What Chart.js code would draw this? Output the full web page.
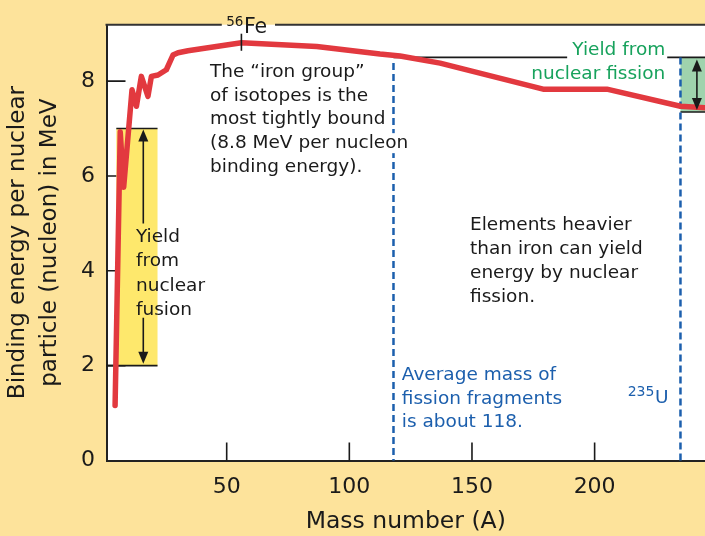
<!DOCTYPE html>
<html>
<head>
<meta charset="utf-8">
<style>
  html, body { margin: 0; padding: 0; background: #fde39b; }
  #wrap { width: 705px; height: 536px; }
</style>
<script src="https://cdn.jsdelivr.net/npm/chart.js@4.4.1/dist/chart.umd.min.js"></script>
</head>
<body>
<div id="wrap"><canvas id="chart" width="705" height="536"></canvas></div>
<script>
// Binding energy per nucleon against mass number (schematic curve)
const massNumber    = [4.5, 6.6, 8.0, 11.4, 13.2, 15.2, 17.9, 19.3, 22.0, 25.4, 28.1, 30.2, 34.2, 56, 86.7, 112.5, 120.7, 137, 179, 205, 235, 245];
const bindingEnergy = [1.16, 6.93, 5.76, 7.82, 7.47, 8.10, 7.68, 8.10, 8.13, 8.24, 8.55, 8.60, 8.64, 8.81, 8.73, 8.57, 8.53, 8.38, 7.83, 7.83, 7.47, 7.44];

const xTicks = [50, 100, 150, 200];
const yTicks = [0, 2, 4, 6, 8];

// shaded yield bands, in axis units (mass number / MeV)
const fusionBand  = { from: 5.0, to: 21.8, low: 2, high: 7, arrowAt: 16 };
const fissionBand = { from: 235, to: 245, low: 7.35, high: 8.5, arrowAt: 241.7 };
const fragmentMass = 118;
const uraniumMass  = 235;
const ironMass     = 56;

// text blocks: anchor = [mass number, MeV] of first baseline
const ironNote     = { at: [43.2, 8.086], lines: ['The \u201ciron group\u201d', 'of isotopes is the', 'most tightly bound', '(8.8 MeV per nucleon', 'binding energy).'] };
const heavyNote    = { at: [149.2, 4.858], lines: ['Elements heavier', 'than iron can yield', 'energy by nuclear', 'fission.'] };
const fragmentNote = { at: [121.4, 1.699], lines: ['Average mass of', 'fission fragments', 'is about 118.'] };
const fusionNote   = { at: [13.0, 4.613], lines: ['Yield', 'from', 'nuclear', 'fusion'] };
const fissionNote  = { at: [228.8, 8.552], lines: ['Yield from', 'nuclear fission'] };

const FONT = '"DejaVu Sans", sans-serif';
const INK = '#1a1a1a';
const RED = '#e2393f';
const BLUE = '#1c5fad';
const GREEN = '#17a25c';
const PAGE = '#fde39b';

function arrowHead(ctx, x, y, dir){
  // tip at (x, y); dir -1 points up, +1 points down
  ctx.beginPath();
  ctx.moveTo(x, y);
  ctx.lineTo(x - 5, y - dir * 12);
  ctx.lineTo(x + 5, y - dir * 12);
  ctx.closePath();
  ctx.fill();
}

function textBlock(ctx, xs, ys, note, color, align, step, knockout){
  const [x, y] = [xs.getPixelForValue(note.at[0]), ys.getPixelForValue(note.at[1])];
  ctx.font = '18.5px ' + FONT;
  ctx.textAlign = align;
  ctx.textBaseline = 'alphabetic';
  note.lines.forEach((t, i) => {
    if(knockout){
      const w = ctx.measureText(t).width;
      ctx.fillStyle = '#fff';
      ctx.fillRect(x - 1, y + i * step - 15, w + 2, 20);
    }
    ctx.fillStyle = color;
    ctx.fillText(t, x, y + i * step);
  });
}

const decor = {
  id: 'decor',
  beforeDraw(chart){
    const {ctx, chartArea: a} = chart;
    ctx.save();
    ctx.fillStyle = PAGE;
    ctx.fillRect(0, 0, chart.width, chart.height);
    ctx.fillStyle = '#fff';
    ctx.fillRect(a.left, a.top, a.right - a.left, a.bottom - a.top);
    ctx.restore();
  },
  beforeDatasetsDraw(chart){
    const {ctx, chartArea: a} = chart;
    const xs = chart.scales.x, ys = chart.scales.y;
    ctx.save();

    // inward tick marks
    ctx.strokeStyle = INK;
    ctx.lineWidth = 1.6;
    ctx.beginPath();
    xTicks.forEach(v => { const x = xs.getPixelForValue(v); ctx.moveTo(x, a.bottom); ctx.lineTo(x, a.bottom - 18); });
    yTicks.filter(v => v > 0).forEach(v => { const y = ys.getPixelForValue(v); ctx.moveTo(a.left, y); ctx.lineTo(a.left + 19, y); });
    ctx.stroke();

    // fusion band
    const fx0 = xs.getPixelForValue(fusionBand.from), fx1 = xs.getPixelForValue(fusionBand.to);
    const fyT = ys.getPixelForValue(fusionBand.high), fyB = ys.getPixelForValue(fusionBand.low);
    ctx.fillStyle = '#fee86c';
    ctx.fillRect(fx0, fyT, fx1 - fx0, fyB - fyT);
    ctx.beginPath();
    ctx.moveTo(fx0, fyT); ctx.lineTo(fx1, fyT);
    ctx.moveTo(a.left, fyB); ctx.lineTo(fx1, fyB);
    ctx.stroke();

    // fission band
    const gx0 = xs.getPixelForValue(fissionBand.from), gx1 = xs.getPixelForValue(fissionBand.to);
    const gyT = ys.getPixelForValue(fissionBand.high), gyB = ys.getPixelForValue(fissionBand.low);
    ctx.fillStyle = '#9fd3ad';
    ctx.fillRect(gx0, gyT, gx1 - gx0, gyB - gyT);
    ctx.beginPath();
    ctx.moveTo(xs.getPixelForValue(fragmentMass), gyT); ctx.lineTo(xs.getPixelForValue(188.8), gyT);
    ctx.moveTo(xs.getPixelForValue(229.6), gyT); ctx.lineTo(gx1, gyT);
    ctx.moveTo(gx0, gyB); ctx.lineTo(gx1, gyB);
    ctx.stroke();

    // dashed markers
    ctx.strokeStyle = BLUE;
    ctx.lineWidth = 2.5;
    ctx.setLineDash([7, 4]);
    ctx.beginPath();
    const dx1 = xs.getPixelForValue(fragmentMass);
    ctx.moveTo(dx1, ys.getPixelForValue(8.38)); ctx.lineTo(dx1, a.bottom);
    const dx2 = xs.getPixelForValue(uraniumMass);
    ctx.moveTo(dx2, gyT); ctx.lineTo(dx2, a.bottom);
    ctx.stroke();
    ctx.setLineDash([]);

    // notes sitting under the curve
    textBlock(ctx, xs, ys, ironNote, INK, 'left', 23.7, true);
    textBlock(ctx, xs, ys, heavyNote, INK, 'left', 23.9, false);
    textBlock(ctx, xs, ys, fragmentNote, BLUE, 'left', 23.65, false);
    textBlock(ctx, xs, ys, fusionNote, INK, 'left', 24.4, false);
    textBlock(ctx, xs, ys, fissionNote, GREEN, 'right', 24.3, false);
    ctx.restore();
  },
  afterDatasetsDraw(chart){
    const {ctx, chartArea: a} = chart;
    const xs = chart.scales.x, ys = chart.scales.y;
    ctx.save();
    ctx.strokeStyle = INK;
    ctx.fillStyle = INK;
    ctx.lineWidth = 1.6;

    // fusion arrows
    const ax = xs.getPixelForValue(fusionBand.arrowAt);
    const t = ys.getPixelForValue(fusionBand.high), b = ys.getPixelForValue(fusionBand.low);
    ctx.beginPath();
    ctx.moveTo(ax, t + 6); ctx.lineTo(ax, ys.getPixelForValue(5.0));
    ctx.moveTo(ax, ys.getPixelForValue(3.01)); ctx.lineTo(ax, b - 6);
    ctx.stroke();
    arrowHead(ctx, ax, t + 1, -1);
    arrowHead(ctx, ax, b - 2, 1);

    // fission arrow
    const gx = xs.getPixelForValue(fissionBand.arrowAt);
    const gt = ys.getPixelForValue(fissionBand.high), gb = ys.getPixelForValue(fissionBand.low);
    ctx.beginPath();
    ctx.moveTo(gx, gt + 6); ctx.lineTo(gx, gb - 6);
    ctx.stroke();
    arrowHead(ctx, gx, gt + 2, -1);
    arrowHead(ctx, gx, gb - 2, 1);

    // top frame line with a gap for the iron label
    ctx.lineWidth = 2;
    ctx.strokeStyle = '#333';
    ctx.beginPath();
    ctx.moveTo(a.left - 1, a.top); ctx.lineTo(xs.getPixelForValue(48), a.top);
    ctx.moveTo(xs.getPixelForValue(69.7), a.top); ctx.lineTo(a.right, a.top);
    ctx.stroke();

    // iron marker
    const fe = xs.getPixelForValue(ironMass);
    ctx.lineWidth = 1.6;
    ctx.strokeStyle = INK;
    ctx.beginPath();
    ctx.moveTo(fe, ys.getPixelForValue(9.0)); ctx.lineTo(fe, ys.getPixelForValue(8.64));
    ctx.stroke();
    ctx.textBaseline = 'alphabetic';
    ctx.font = '13.5px ' + FONT;
    ctx.textAlign = 'right';
    ctx.fillText('56', fe + 2, a.top + 1.5);
    ctx.font = '20.5px ' + FONT;
    ctx.textAlign = 'left';
    ctx.fillText('Fe', fe + 2.5, ys.getPixelForValue(9.02));

    // uranium label
    const ux = xs.getPixelForValue(230.1);
    ctx.fillStyle = BLUE;
    ctx.font = '18.5px ' + FONT;
    ctx.textAlign = 'right';
    ctx.fillText('U', ux, ys.getPixelForValue(1.203));
    const uw = ctx.measureText('U').width;
    ctx.font = '14px ' + FONT;
    ctx.fillText('235', ux - uw - 0.5, ys.getPixelForValue(1.355));
    ctx.restore();
  }
};

new Chart(document.getElementById('chart'), {
  type: 'line',
  data: {
    datasets: [{
      data: massNumber.map((m, i) => ({x: m, y: bindingEnergy[i]})),
      borderColor: RED,
      borderWidth: 5.5,
      borderCapStyle: 'round',
      borderJoinStyle: 'round',
      pointRadius: 0,
      tension: 0,
      fill: false
    }]
  },
  options: {
    responsive: false,
    animation: false,
    devicePixelRatio: 1,
    layout: { padding: { top: 21, right: 0, bottom: 0, left: 0 } },
    plugins: { legend: { display: false }, tooltip: { enabled: false } },
    scales: {
      x: {
        type: 'linear', min: 1, max: 245,
        grid: { display: false, drawTicks: false },
        border: { display: true, color: '#222', width: 2 },
        afterBuildTicks: s => { s.ticks = xTicks.map(v => ({value: v})); },
        afterFit: s => { s.height = 75.5; },
        ticks: { font: { family: FONT, size: 22 }, color: INK, padding: 14, maxRotation: 0 },
        title: { display: true, text: 'Mass number (A)', font: { family: FONT, size: 23.5 }, color: INK, padding: { top: 0, bottom: 0 } }
      },
      y: {
        type: 'linear', min: 0, max: 9.19,
        grid: { display: false, drawTicks: false },
        border: { display: true, color: '#222', width: 2 },
        afterBuildTicks: s => { s.ticks = yTicks.map(v => ({value: v})); },
        afterFit: s => { s.width = 106.5; },
        ticks: { font: { family: FONT, size: 22 }, color: INK, padding: 11.5 },
        title: { display: true, text: ['Binding energy per nuclear', 'particle (nucleon) in MeV'], font: { family: FONT, size: 23, lineHeight: 1.38 }, color: INK, padding: { top: 2, bottom: 0 } }
      }
    }
  },
  plugins: [decor]
});
</script>
</body>
</html>
